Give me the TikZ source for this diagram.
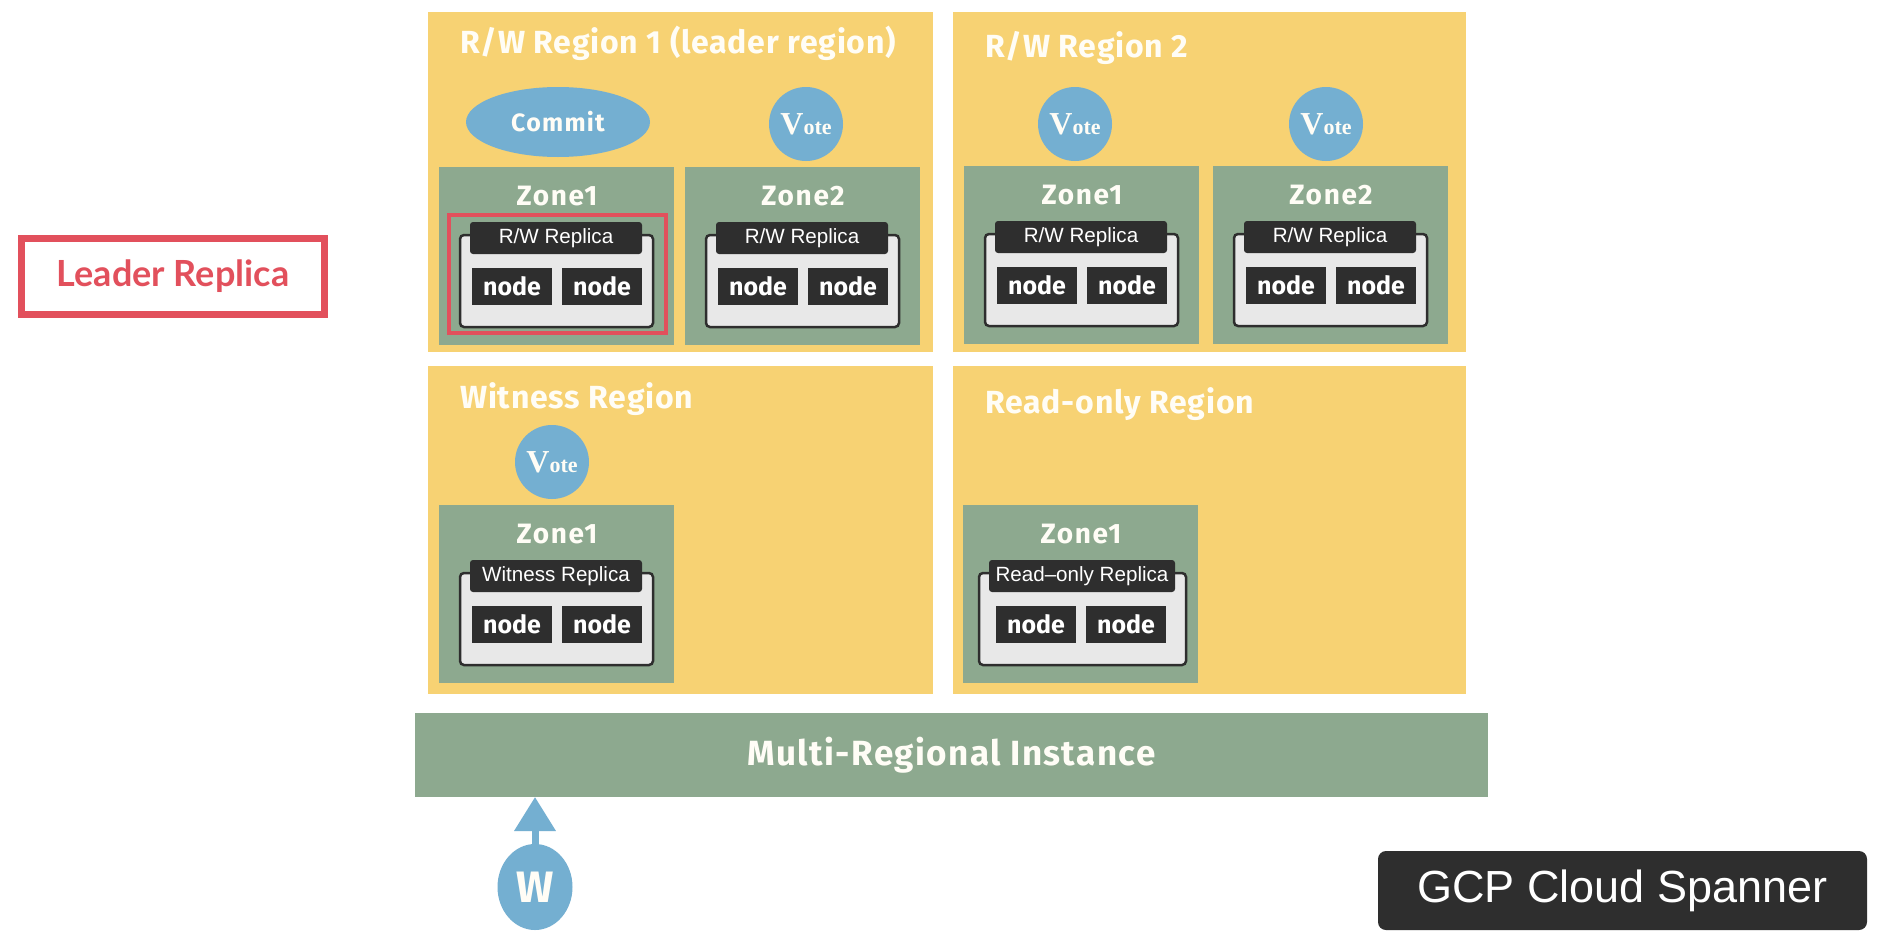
\documentclass[tikz,border=0pt]{standalone}
\usepackage{fontspec}
\setmainfont{Fira Sans}
\newfontfamily\labelfont{Lato}
\newfontfamily\uifont{Liberation Sans}
\newfontfamily\votefont{Liberation Serif}
\usetikzlibrary{arrows.meta,shapes.geometric}

\definecolor{regionyellow}{HTML}{F7D273}
\definecolor{zonegreen}{HTML}{8DA98F}
\definecolor{voteblue}{HTML}{74AFD1}
\definecolor{darkbox}{HTML}{2E2E2E}
\definecolor{framegray}{HTML}{E8E8E8}
\definecolor{leaderred}{HTML}{E2505C}
\definecolor{softwhite}{HTML}{FFFDF6}

\tikzset{
  box/.style={anchor=north west, inner sep=0pt, outer sep=0pt},
  regionbox/.style={box, fill=regionyellow},
  regiontitle/.style={anchor=base west, inner sep=0pt, text=softwhite,
    font=\bfseries\fontsize{32}{32}\selectfont\addfontfeatures{LetterSpace=2.5}},
  zonebox/.style={box, fill=zonegreen, minimum width=235pt, minimum height=178pt},
  zonelabel/.style={anchor=base, inner sep=0pt, text=softwhite,
    font=\bfseries\fontsize{28}{28}\selectfont\addfontfeatures{LetterSpace=6}},
  replicaframe/.style={box, fill=framegray, draw=darkbox, line width=2.5pt,
    rounded corners=4pt, minimum height=92pt},
  replicatab/.style={box, fill=darkbox, rounded corners=3pt, minimum height=32pt,
    text=white, font=\uifont\fontsize{20.6}{20.6}\selectfont},
  servernode/.style={box, fill=darkbox, minimum width=80pt, minimum height=37pt,
    text=white, font=\bfseries\fontsize{25}{25}\selectfont},
  votecircle/.style={circle, fill=voteblue, minimum size=74pt, inner sep=0pt,
    text=softwhite},
  commitoval/.style={ellipse, fill=voteblue, minimum width=184pt, minimum height=70pt,
    inner sep=0pt, text=softwhite,
    font=\bfseries\fontsize{25}{25}\selectfont\addfontfeatures{LetterSpace=5}},
  highlight/.style={draw=leaderred, line width=4pt},
  writearrow/.style={draw=voteblue, line width=7pt,
    -{Triangle[width=40pt,length=34pt]}},
}

% "Vote" badge text: large V followed by smaller "ote"
\newcommand\votetext{\votefont\bfseries\fontsize{32}{32}\selectfont V\fontsize{22}{22}\selectfont ote}

% Zone with label, replica frame, tab and two server nodes
% #1 name, #2 x, #3 y, #4 zone label, #5 replica text, #6 frame inset, #7 frame width
\newcommand\drawzone[7]{%
  \node[zonebox] (#1) at (#2,#3) {};
  \node[zonelabel] (#1-label) at (#2+118,#3+38) {#4};
  \node[replicaframe, minimum width=#7pt] (#1-frame) at (#2+#6,#3+68) {};
  \node[replicatab, minimum width=#7pt-21pt] (#1-tab) at (#2+#6+10,#3+55) {#5};
  \node[servernode] (#1-n1) at (#2+33,#3+101) {node};
  \node[servernode] (#1-n2) at (#2+123,#3+101) {node};
}

\begin{document}
\begin{tikzpicture}[x=1pt, y=-1pt]
  \useasboundingbox (0,0) rectangle (1886,945);
  \fill[white] (0,0) rectangle (1886,945);

  % regions
  \node[regionbox, minimum width=505pt, minimum height=340pt] (rw1) at (428,12) {};
  \node[regionbox, minimum width=513pt, minimum height=340pt] (rw2) at (953,12) {};
  \node[regionbox, minimum width=505pt, minimum height=328pt] (wit) at (428,366) {};
  \node[regionbox, minimum width=513pt, minimum height=328pt] (ro) at (953,366) {};

  \node[regiontitle] (rw1-title) at (460,53) {R/W Region 1 (leader region)};
  \node[regiontitle] (rw2-title) at (985,57) {R/W Region 2};
  \node[regiontitle] (wit-title) at (460,408) {Witness Region};
  \node[regiontitle] (ro-title) at (985,413) {Read-only Region};

  % zones
  \drawzone{z11}{439}{167}{Zone1}{R/W Replica}{21}{193}
  \drawzone{z12}{685}{167}{Zone2}{R/W Replica}{21}{193}
  \drawzone{z21}{964}{166}{Zone1}{R/W Replica}{21}{193}
  \drawzone{z22}{1213}{166}{Zone2}{R/W Replica}{21}{193}
  \drawzone{zw}{439}{505}{Zone1}{Witness Replica}{21}{193}
  \drawzone{zr}{963}{505}{Zone1}{Read–only Replica}{16}{207}

  % commit and votes
  \node[commitoval] (commit) at (558,122) {Commit};
  \node[votecircle] (vote12) at (806,124) {\votetext};
  \node[votecircle] (vote21) at (1075,124) {\votetext};
  \node[votecircle] (vote22) at (1326,124) {\votetext};
  \node[votecircle] (votew) at (552,462) {\votetext};

  % leader replica highlight
  \draw[highlight] (449,215) rectangle (666,333);
  \node[draw=leaderred, line width=6.5pt, minimum width=303pt, minimum height=76pt,
    inner sep=0pt, text=leaderred, font=\labelfont\bfseries\fontsize{36}{36}\selectfont]
    (leader) at (173,276.5) {Leader Replica};

  % instance bar
  \node[box, fill=zonegreen, minimum width=1073pt, minimum height=84pt] (inst) at (415,713) {};
  \node[text=softwhite, font=\bfseries\fontsize{35}{35}\selectfont\addfontfeatures{LetterSpace=4}]
    (inst-label) at (inst.center) {Multi-Regional Instance};

  % write client
  \node[ellipse, fill=voteblue, minimum width=75pt, minimum height=86pt, inner sep=0pt,
    text=softwhite, font=\bfseries\fontsize{44}{44}\selectfont] (w) at (535,887) {W};
  \draw[writearrow] (w.north) -- (w.north |- inst.south);

  % product tag
  \node[box, fill=darkbox, rounded corners=8pt, minimum width=489pt, minimum height=79pt,
    text=white, font=\uifont\fontsize{45}{45}\selectfont] (gcp) at (1378,851) {GCP Cloud Spanner};
\end{tikzpicture}
\end{document}
